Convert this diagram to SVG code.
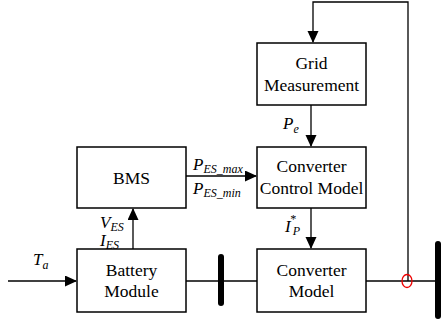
<svg xmlns="http://www.w3.org/2000/svg" width="442" height="329" viewBox="0 0 442 329">
<style>
.box{fill:#fff;stroke:#000;stroke-width:1.5}
.ln{fill:none;stroke:#000;stroke-width:1.3}
.t{font-family:"Liberation Serif",serif;font-size:17.5px;text-anchor:middle;fill:#000}
.v{font-family:"Liberation Serif",serif;font-style:italic;font-size:17px;fill:#000}
.s{font-size:12px}
.bus{stroke:#000;stroke-width:6;stroke-linecap:round}
</style>
<defs>
<marker id="ah" markerWidth="12" markerHeight="12" refX="11" refY="5.5" orient="auto" markerUnits="userSpaceOnUse">
<path d="M0,0 L12,5.5 L0,11 Z" fill="#000"/>
</marker>
</defs>
<rect width="442" height="329" fill="#fff"/>
<g id="connectors">
<polyline class="ln" points="408,281 408,2 313,2 313,42" marker-end="url(#ah)"/>
<line class="ln" x1="311" y1="105" x2="311" y2="146" marker-end="url(#ah)"/>
<line class="ln" x1="311" y1="208" x2="311" y2="248" marker-end="url(#ah)"/>
<line class="ln" x1="186" y1="176" x2="256" y2="176" marker-end="url(#ah)"/>
<line class="ln" x1="133" y1="249" x2="133" y2="209" marker-end="url(#ah)"/>
<line class="ln" x1="8" y1="281" x2="76" y2="281" marker-end="url(#ah)"/>
<line class="ln" x1="186" y1="281" x2="257" y2="281"/>
<line class="ln" x1="366" y1="281" x2="438" y2="281"/>
<line class="bus" x1="221" y1="257" x2="221" y2="303"/>
<line class="bus" x1="438" y1="244" x2="438" y2="316"/>
<ellipse cx="407" cy="281" rx="5" ry="6.5" fill="none" stroke="#e00" stroke-width="1.3"/>
<text class="v" x="283" y="129">P<tspan class="s" dy="4">e</tspan></text>
<text class="v" x="193" y="170">P<tspan class="s" dy="3">ES_max</tspan></text>
<text class="v" x="193" y="194">P<tspan class="s" dy="3">ES_min</tspan></text>
<text class="v" x="100" y="228">V<tspan class="s" dy="3">ES</tspan></text>
<text class="v" x="100" y="246">I<tspan class="s" dy="3">ES</tspan></text>
<text class="v" x="33" y="265">T<tspan class="s" dy="4">a</tspan></text>
<text class="v" x="285" y="232">I<tspan class="s" dx="-1" dy="-9">*</tspan><tspan class="s" dx="-3" dy="12">P</tspan></text>
</g>
<g id="grid">
<rect class="box" x="257" y="43" width="109" height="62"/>
<text class="t" x="311.5" y="69">Grid</text>
<text class="t" x="311.5" y="91">Measurement</text>
</g>
<g id="ccm">
<rect class="box" x="257" y="147" width="109" height="61"/>
<text class="t" x="311.5" y="172">Converter</text>
<text class="t" x="311.5" y="194">Control Model</text>
</g>
<g id="bms">
<rect class="box" x="77" y="147" width="109" height="61"/>
<text class="t" x="131.5" y="184">BMS</text>
</g>
<g id="battery">
<rect class="box" x="77" y="249" width="109" height="63"/>
<text class="t" x="131.5" y="276">Battery</text>
<text class="t" x="131.5" y="297">Module</text>
</g>
<g id="converter">
<rect class="box" x="257" y="249" width="109" height="63"/>
<text class="t" x="311.5" y="276">Converter</text>
<text class="t" x="311.5" y="297">Model</text>
</g>
</svg>
